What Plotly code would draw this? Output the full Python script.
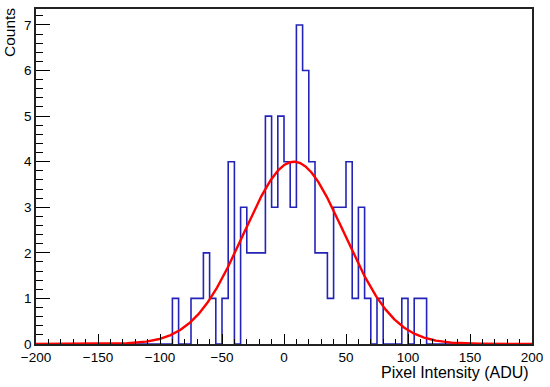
import numpy as np
import plotly.graph_objects as go

# Histogram: bin width 5 ADU over [-200, 200]; non-zero region given by its bin lower edges
x_min, x_max, bin_width = -200, 200, 5
bin_lows = list(range(-90, 115, 5))
counts = [1, 0, 0, 1, 1, 2, 1, 0, 1, 4, 0, 3, 2, 2, 2, 5, 3, 5, 4, 3,
          7, 6, 4, 2, 2, 1, 3, 3, 4, 1, 3, 1, 0, 1, 0, 0, 0, 1, 0, 1, 1]

# Gaussian fit parameters
fit_amp, fit_mean, fit_sigma = 4.0, 8.0, 40.5

x_title = "Pixel Intensity (ADU)"
y_title = "Counts"

edges = np.arange(x_min, x_max + bin_width, bin_width)
full = np.zeros(len(edges) - 1)
for lo, c in zip(bin_lows, counts):
    full[int((lo - x_min) // bin_width)] = c
hx = edges
hy = np.append(full, full[-1])

fx = np.linspace(x_min, x_max, 801)
fy = fit_amp * np.exp(-0.5 * ((fx - fit_mean) / fit_sigma) ** 2)

fig = go.Figure()
fig.add_trace(go.Scatter(x=hx, y=hy, mode="lines", line=dict(color="#2323b8", width=1.6, shape="hv"),
                         hoverinfo="skip"))
fig.add_trace(go.Scatter(x=fx, y=fy, mode="lines", line=dict(color="#ff0000", width=2.4),
                         hoverinfo="skip"))

font = "Liberation Sans, Arial, Helvetica, sans-serif"
fig.update_layout(
    width=550, height=387,
    margin=dict(l=36, r=17, t=7, b=43),
    paper_bgcolor="white", plot_bgcolor="white",
    showlegend=False,
    font=dict(family=font, size=13.5, color="black"),
    xaxis=dict(range=[x_min, x_max], dtick=50, tick0=0, ticks="inside", ticklen=10, tickwidth=1,
               tickcolor="black", showgrid=False, zeroline=False, showline=True, mirror=True,
               linecolor="#222", linewidth=1.5,
               minor=dict(dtick=10, ticks="inside", ticklen=5, tickcolor="black", showgrid=False),
               tickfont=dict(size=13.5)),
    yaxis=dict(range=[0, 7.35], dtick=1, tick0=0, ticks="inside", ticklen=14, tickwidth=1,
               tickcolor="black", showgrid=False, zeroline=False, showline=True, mirror=True,
               linecolor="#222", linewidth=1.5,
               minor=dict(dtick=0.2, ticks="inside", ticklen=7, tickcolor="black", showgrid=False),
               tickfont=dict(size=13.5)),
    annotations=[
        dict(text=y_title, xref="paper", yref="paper", x=0, y=1, xanchor="center", yanchor="top",
             textangle=-90, xshift=-26.5, yshift=3, showarrow=False, font=dict(size=15.5)),
        dict(text=x_title, xref="paper", yref="paper", x=1, y=0, xanchor="right", yanchor="middle",
             yshift=-28, xshift=-1, showarrow=False, font=dict(size=16)),
    ],
)

fig.write_html("out.html", config={"displayModeBar": False},
               post_script="document.body.style.margin='0';document.body.style.overflow='hidden';")
